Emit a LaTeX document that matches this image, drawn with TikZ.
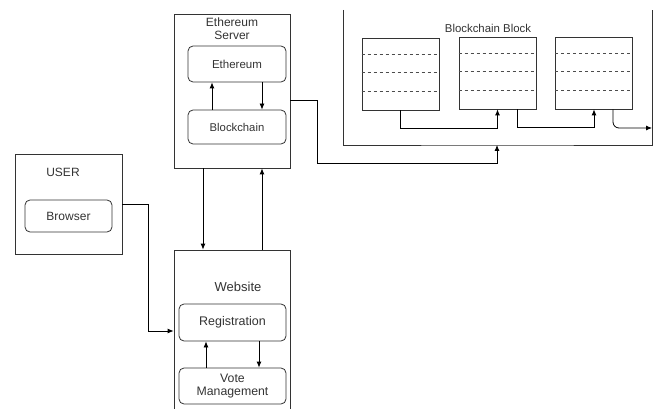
\documentclass[tikz,border=0pt]{standalone}
\usepackage{fontspec}
\setmainfont{Liberation Sans}
\usetikzlibrary{arrows.meta}
\tikzset{
  box/.style={draw=black!80,line width=0.8pt,inner sep=0pt},
  rbox/.style={box,rounded corners=5pt,font=\fontsize{12}{14}\selectfont,text=black!80},
  lbl/.style={font=\fontsize{12}{14}\selectfont,text=black!80,align=center,inner sep=0pt},
  arr/.style={-{Latex[length=6pt,width=5pt]},line width=0.8pt},
  blk/.style={box,minimum width=77,minimum height=72},
}
\begin{document}
\begin{tikzpicture}[x=1pt,y=-1pt]
\useasboundingbox (0,0) rectangle (659,409);
% user side
\node[box,minimum width=107,minimum height=100](user) at (68.5,204){};
\node[lbl](usertxt) at (63,172){USER};
\node[rbox,minimum width=87,minimum height=32](browser) at (68.5,216){Browser};
% ethereum server
\node[box,minimum width=116,minimum height=154](srv) at (232,91){};
\node[lbl,font=\fontsize{12}{13}\selectfont](srvtxt) at (232,28.5){Ethereum\\Server};
\node[rbox,minimum width=98,minimum height=36,font=\fontsize{11.5}{14}\selectfont](eth) at (237,64){Ethereum};
\node[rbox,minimum width=98,minimum height=34,font=\fontsize{11.3}{14}\selectfont](chain) at (237,127){Blockchain};
\draw[arr]([xshift=-25pt]chain.north)--([xshift=-25pt]eth.south);
\draw[arr]([xshift=25pt]eth.south)--([xshift=25pt]chain.north);
% website
\node[box,minimum width=116,minimum height=170](web) at (232,335){};
\node[lbl,font=\fontsize{13}{15}\selectfont](webtxt) at (238,287){Website};
\node[rbox,minimum width=107,minimum height=37,font=\fontsize{12.5}{14}\selectfont](reg) at (232.5,322.5){Registration};
\node[rbox,minimum width=107,minimum height=36,align=center,font=\fontsize{12.3}{13.5}\selectfont](vote) at (232.5,386){Vote\\Management};
\draw[arr]([xshift=-26.5pt]vote.north)--([xshift=-26.5pt]reg.south);
\draw[arr]([xshift=26.5pt]reg.south)--([xshift=26.5pt]vote.north);
% server <-> website
\draw[arr]([xshift=-29pt]srv.south)--([xshift=-29pt]web.north);
\draw[arr]([xshift=30pt]web.north)--([xshift=30pt]srv.south);
\draw[arr](user.east)--++(26,0)|-([yshift=4pt]web.west);
% blockchain block
\coordinate(tl) at (343,10);
\coordinate(tr) at (652,10);
\coordinate(chainbot) at (497,145);
\draw[line width=0.8pt,draw=black!80](tl)|-(chainbot)-|(tr);
\node[lbl,font=\fontsize{11.4}{14}\selectfont](blktxt) at (488,28){Blockchain Block};
\node[blk](b1) at (400.5,74){};
\node[blk](b2) at (497.5,73){};
\node[blk](b3) at (594,73){};
\foreach \b in {b1,b2,b3}{
  \foreach \d in {17,35,54}
    \draw[dashed,line width=0.6pt,draw=black!70]([yshift=-\d pt]\b.north west)--([yshift=-\d pt]\b.north east);
}
\draw[arr](b1.south)--++(0,18)-|(b2.south);
\draw[arr]([xshift=19.5pt]b2.south)--++(0,18)-|(b3.south);
\coordinate(outR) at (652,128);
\draw[arr,rounded corners=6pt]([xshift=19pt]b3.south)|-(outR);
\coordinate(bendA) at (317,163);
\draw[arr]([yshift=-9pt]srv.east)-|(bendA)-|(chainbot);
\end{tikzpicture}
\end{document}
